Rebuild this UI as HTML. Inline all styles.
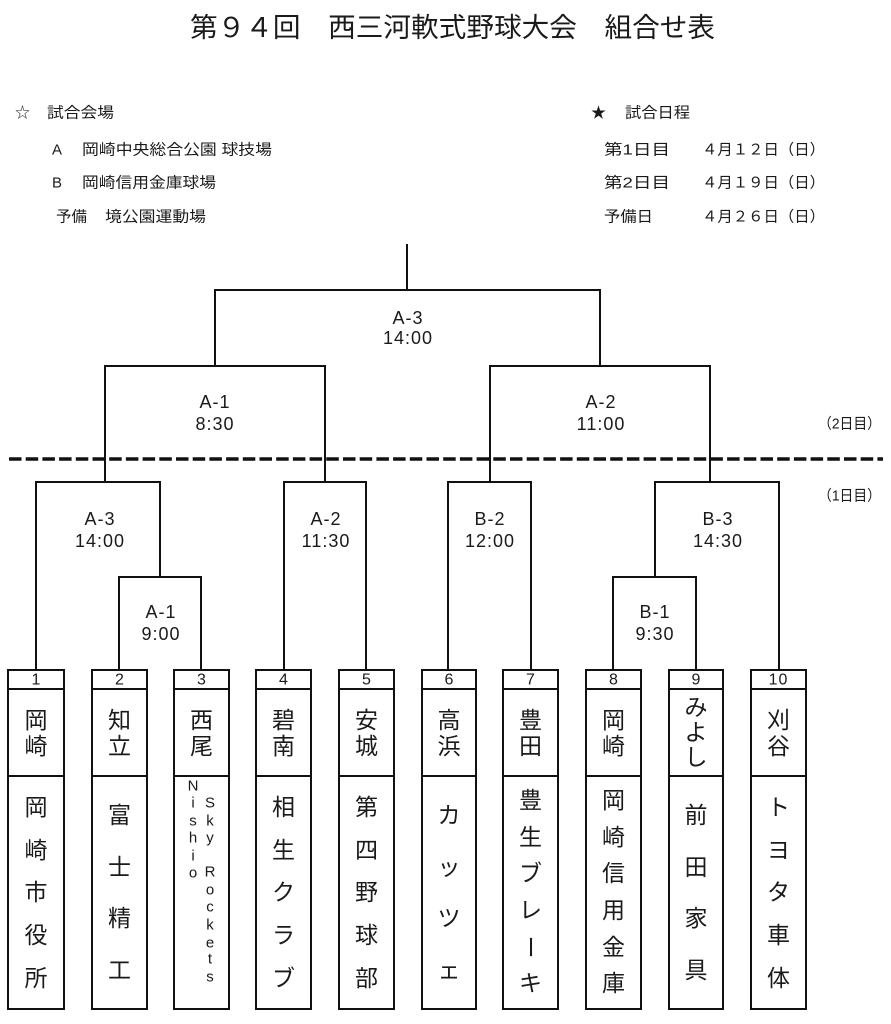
<!DOCTYPE html>
<html><head><meta charset="utf-8"><style>
html,body{margin:0;padding:0;background:#fff;}
svg{display:block;}
.jp{font-family:"Liberation Sans","Noto Sans CJK JP",sans-serif;fill:#1a1a1a;}
.lt{font-family:"Liberation Sans",sans-serif;fill:#1a1a1a;}
</style></head><body>
<svg width="891" height="1024" viewBox="0 0 891 1024" xmlns="http://www.w3.org/2000/svg">
<rect width="891" height="1024" fill="#fff"/>
<!-- Title -->
<text class="jp" x="190" y="28" font-size="27" dominant-baseline="central" textLength="525" lengthAdjust="spacingAndGlyphs">第９４回　西三河軟式野球大会　組合せ表</text>

<!-- Venue info -->
<g class="jp" font-size="15" dominant-baseline="central">
<text x="15" y="113">☆</text>
<text x="47" y="113" textLength="67" lengthAdjust="spacingAndGlyphs">試合会場</text>
<text x="52" y="150">A</text>
<text x="82" y="150" textLength="190" lengthAdjust="spacingAndGlyphs">岡崎中央総合公園 球技場</text>
<text x="52" y="183">B</text>
<text x="82" y="183" textLength="134" lengthAdjust="spacingAndGlyphs">岡崎信用金庫球場</text>
<text x="56" y="217" textLength="31" lengthAdjust="spacingAndGlyphs">予備</text>
<text x="105" y="217" textLength="101" lengthAdjust="spacingAndGlyphs">境公園運動場</text>

<text x="591" y="113">★</text>
<text x="625" y="113" textLength="65" lengthAdjust="spacingAndGlyphs">試合日程</text>
<text x="604" y="150" textLength="66" lengthAdjust="spacingAndGlyphs">第1日目</text>
<text x="702" y="150" textLength="123" lengthAdjust="spacingAndGlyphs">４月１２日（日）</text>
<text x="604" y="183" textLength="66" lengthAdjust="spacingAndGlyphs">第2日目</text>
<text x="702" y="183" textLength="123" lengthAdjust="spacingAndGlyphs">４月１９日（日）</text>
<text x="604" y="217" textLength="49" lengthAdjust="spacingAndGlyphs">予備日</text>
<text x="702" y="217" textLength="123" lengthAdjust="spacingAndGlyphs">４月２６日（日）</text>
</g>

<!-- Bracket lines -->
<g fill="none" stroke="#111" stroke-width="2">
<path d="M407,244 V290"/>
<path d="M215,366 V290 H600 V366"/>
<path d="M105,482 V366 H325 V482"/>
<path d="M490,482 V366 H710 V482"/>
<path d="M36,670 V482 H160 V577"/>
<path d="M119,670 V577 H201 V670"/>
<path d="M284,670 V482 H366 V670"/>
<path d="M448,670 V482 H531 V670"/>
<path d="M655,577 V482 H779 V670"/>
<path d="M613,670 V577 H696 V670"/>
</g>
<line x1="9" y1="459" x2="883" y2="459" stroke="#111" stroke-width="3.5" stroke-dasharray="12.5 4.2"/>

<!-- Bracket labels -->
<g class="lt" font-size="18" text-anchor="middle" dominant-baseline="central" letter-spacing="1">
<text x="408" y="318">A-3</text><text x="408" y="338">14:00</text>
<text x="215" y="402">A-1</text><text x="215" y="424">8:30</text>
<text x="601" y="402">A-2</text><text x="601" y="424">11:00</text>
<text x="100" y="519">A-3</text><text x="100" y="541">14:00</text>
<text x="161" y="612">A-1</text><text x="161" y="634">9:00</text>
<text x="326" y="519">A-2</text><text x="326" y="541">11:30</text>
<text x="490" y="519">B-2</text><text x="490" y="541">12:00</text>
<text x="718" y="519">B-3</text><text x="718" y="541">14:30</text>
<text x="655" y="612">B-1</text><text x="655" y="634">9:30</text>
</g>
<g class="jp" font-size="15" dominant-baseline="central">
<text x="818" y="424" textLength="63" lengthAdjust="spacingAndGlyphs">（2日目）</text>
<text x="818" y="496" textLength="63" lengthAdjust="spacingAndGlyphs">（1日目）</text>
</g>

<!-- Team boxes -->
<g fill="none" stroke="#111" stroke-width="2">
<rect x="8" y="670" width="56" height="339"/><line x1="8" y1="689" x2="64" y2="689"/><line x1="8" y1="776" x2="64" y2="776"/>
<rect x="92" y="670" width="55" height="339"/><line x1="92" y1="689" x2="147" y2="689"/><line x1="92" y1="776" x2="147" y2="776"/>
<rect x="174" y="670" width="55" height="339"/><line x1="174" y1="689" x2="229" y2="689"/><line x1="174" y1="776" x2="229" y2="776"/>
<rect x="256" y="670" width="55" height="339"/><line x1="256" y1="689" x2="311" y2="689"/><line x1="256" y1="776" x2="311" y2="776"/>
<rect x="339" y="670" width="55" height="339"/><line x1="339" y1="689" x2="394" y2="689"/><line x1="339" y1="776" x2="394" y2="776"/>
<rect x="422" y="670" width="54" height="339"/><line x1="422" y1="689" x2="476" y2="689"/><line x1="422" y1="776" x2="476" y2="776"/>
<rect x="503" y="670" width="55" height="339"/><line x1="503" y1="689" x2="558" y2="689"/><line x1="503" y1="776" x2="558" y2="776"/>
<rect x="586" y="670" width="55" height="339"/><line x1="586" y1="689" x2="641" y2="689"/><line x1="586" y1="776" x2="641" y2="776"/>
<rect x="669" y="670" width="54" height="339"/><line x1="669" y1="689" x2="723" y2="689"/><line x1="669" y1="776" x2="723" y2="776"/>
<rect x="751" y="670" width="55" height="339"/><line x1="751" y1="689" x2="806" y2="689"/><line x1="751" y1="776" x2="806" y2="776"/>
</g>

<!-- Numbers -->
<g class="lt" font-size="16" text-anchor="middle" dominant-baseline="central">
<text x="36" y="680">1</text><text x="119.5" y="680">2</text><text x="201.5" y="680">3</text>
<text x="283.5" y="680">4</text><text x="366.5" y="680">5</text><text x="449" y="680">6</text>
<text x="530.5" y="680">7</text><text x="613.5" y="680">8</text><text x="696" y="680">9</text>
<text x="778.5" y="680" letter-spacing="1">10</text>
</g>

<!-- City names -->
<g class="jp" font-size="23" text-anchor="middle" dominant-baseline="central">
<text x="36" y="720">岡</text><text x="36" y="746">崎</text>
<text x="119.5" y="720">知</text><text x="119.5" y="746">立</text>
<text x="201.5" y="720">西</text><text x="201.5" y="746">尾</text>
<text x="283.5" y="720">碧</text><text x="283.5" y="746">南</text>
<text x="366.5" y="720">安</text><text x="366.5" y="746">城</text>
<text x="449" y="720">高</text><text x="449" y="746">浜</text>
<text x="530.5" y="720">豊</text><text x="530.5" y="746">田</text>
<text x="613.5" y="720">岡</text><text x="613.5" y="746">崎</text>
<text x="696" y="707">み</text><text x="696" y="732">よ</text><text x="696" y="757">し</text>
<text x="778.5" y="720">刈</text><text x="778.5" y="746">谷</text>
</g>

<!-- Team names -->
<g class="jp" font-size="23" text-anchor="middle" dominant-baseline="central">
<!-- 1 -->
<text x="36" y="807">岡</text><text x="36" y="850">崎</text><text x="36" y="892">市</text><text x="36" y="935">役</text><text x="36" y="978">所</text>
<!-- 2 -->
<text x="119.5" y="815">富</text><text x="119.5" y="867">士</text><text x="119.5" y="918">精</text><text x="119.5" y="970">工</text>
<!-- 4 -->
<text x="283.5" y="807">相</text><text x="283.5" y="850">生</text><text x="283.5" y="892">ク</text><text x="283.5" y="935">ラ</text><text x="283.5" y="978">ブ</text>
<!-- 5 -->
<text x="366.5" y="807">第</text><text x="366.5" y="850">四</text><text x="366.5" y="892">野</text><text x="366.5" y="935">球</text><text x="366.5" y="978">部</text>
<!-- 6 -->
<text x="449" y="815">カ</text><text x="449" y="867">ッ</text><text x="449" y="918">ツ</text><text x="449" y="970">ェ</text>
<!-- 7 -->
<text x="530.5" y="800">豊</text><text x="530.5" y="837">生</text><text x="530.5" y="873">ブ</text><text x="530.5" y="910">レ</text><text x="530.5" y="947" transform="rotate(90 530.5 947)">ー</text><text x="530.5" y="983">キ</text>
<!-- 8 -->
<text x="613.5" y="800">岡</text><text x="613.5" y="837">崎</text><text x="613.5" y="873">信</text><text x="613.5" y="910">用</text><text x="613.5" y="947">金</text><text x="613.5" y="983">庫</text>
<!-- 9 -->
<text x="696" y="815">前</text><text x="696" y="867">田</text><text x="696" y="918">家</text><text x="696" y="970">具</text>
<!-- 10 -->
<text x="778.5" y="807">ト</text><text x="778.5" y="850">ヨ</text><text x="778.5" y="892">タ</text><text x="778.5" y="935">車</text><text x="778.5" y="978">体</text>
</g>

<!-- Nishio Sky Rockets -->
<g class="lt" font-size="15" text-anchor="middle" dominant-baseline="central">
<text x="193" y="786">N</text><text x="193" y="803">i</text><text x="193" y="821">s</text><text x="193" y="838">h</text><text x="193" y="856">i</text><text x="193" y="873">o</text>
<text x="210" y="803">S</text><text x="210" y="821">k</text><text x="210" y="838">y</text><text x="210" y="872">R</text><text x="210" y="890">o</text><text x="210" y="907">c</text><text x="210" y="925">k</text><text x="210" y="943">e</text><text x="210" y="959">t</text><text x="210" y="977">s</text>
</g>
</svg>
</body></html>
